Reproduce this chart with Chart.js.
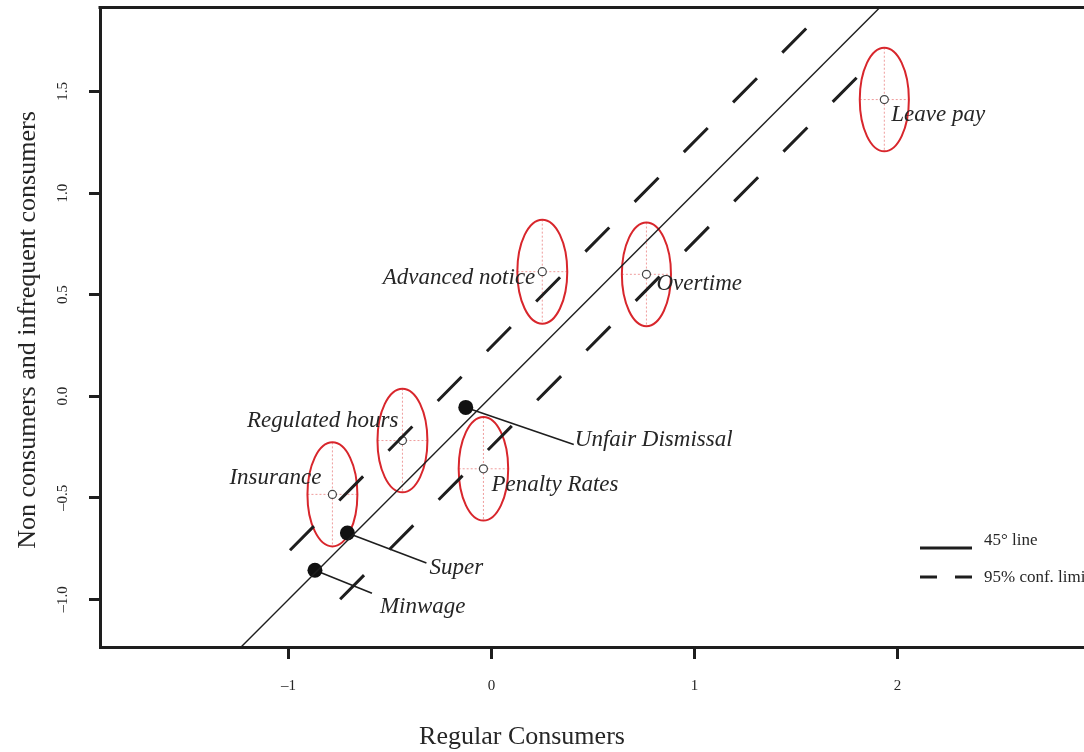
<!DOCTYPE html>
<html>
<head>
<meta charset="utf-8">
<script src="https://cdn.jsdelivr.net/npm/chart.js@4.4.1/dist/chart.umd.min.js"></script>
<style>
  html, body { margin: 0; padding: 0; background: #fff; overflow: hidden; }
  #wrap { width: 1084px; height: 752px; overflow: hidden; }
  canvas { display: block; }
</style>
</head>
<body>
<div id="wrap"><canvas id="c" width="1110" height="752"></canvas></div>
<script>
// ellipse items: point estimate + half-widths of the confidence region
const ellipseLabels = ['Leave pay', 'Advanced notice', 'Overtime', 'Regulated hours', 'Insurance', 'Penalty Rates'];
const ellipseX      = [1.935, 0.250, 0.763, -0.439, -0.784, -0.040];
const ellipseY      = [1.460, 0.613, 0.600, -0.218, -0.483, -0.357];
const ellipseHalfX  = [0.121, 0.123, 0.121, 0.123, 0.123, 0.122];
const ellipseHalfY  = [0.255, 0.256, 0.255, 0.255, 0.256, 0.255];

// filled (significant) items
const sigLabels = ['Unfair Dismissal', 'Super', 'Minwage'];
const sigX      = [-0.127, -0.710, -0.870];
const sigY      = [-0.055, -0.673, -0.856];

// reference lines
const diagX  = [-1.4, 2.1];
const diagY  = [-1.4, 2.1];
const upperX = [-0.993, 1.559];
const upperY = [-0.758, 1.819];
const lowerX = [-0.746, 1.805];
const lowerY = [-0.999, 1.574];

// axes
const xTicks = [-1, 0, 1, 2];
const yTicks = [-1.0, -0.5, 0.0, 0.5, 1.0, 1.5];
const xRange = [-1.929, 2.968];
const yRange = [-1.234, 1.913];

// label placement: pixel offset from the point, text alignment
const LABEL_POS = {
  'Leave pay':        [7, 15, 'left'],
  'Advanced notice':  [-7, 6, 'right'],
  'Overtime':         [10, 10, 'left'],
  'Regulated hours':  [-4, -20, 'right'],
  'Insurance':        [-11, -16, 'right'],
  'Penalty Rates':    [8, 16, 'left'],
  'Unfair Dismissal': [109, 33, 'left'],
  'Super':            [82, 35, 'left'],
  'Minwage':          [65, 37, 'left'],
};
// leader line ends for the filled points (pixel offsets)
const LEADER = { 'Unfair Dismissal': [108, 37], 'Super': [79, 30], 'Minwage': [57, 23] };

const INK = '#1e1e1e';
const TXT = '#262626';
const RED = '#d8262c';
const SERIF = '"Liberation Serif", "Times New Roman", serif';
const fmt = v => (v < 0 ? '\u2013' : '') + Math.abs(v).toFixed(1);

const pts = (xs, ys) => xs.map((x, i) => ({ x, y: ys[i] }));

const overlay = {
  id: 'overlay',
  beforeDatasetsDraw(chart) {
    const { ctx, scales: { x, y } } = chart;
    ctx.save();
    // ellipses + crosshairs
    ellipseLabels.forEach((lab, i) => {
      const cx = x.getPixelForValue(ellipseX[i]);
      const cy = y.getPixelForValue(ellipseY[i]);
      const rx = x.getPixelForValue(ellipseX[i] + ellipseHalfX[i]) - cx;
      const ry = cy - y.getPixelForValue(ellipseY[i] + ellipseHalfY[i]);
      ctx.strokeStyle = 'rgba(228,90,90,0.6)';
      ctx.lineWidth = 1;
      ctx.setLineDash([2, 2]);
      ctx.beginPath();
      ctx.moveTo(cx - rx, cy); ctx.lineTo(cx + rx, cy);
      ctx.moveTo(cx, cy - ry); ctx.lineTo(cx, cy + ry);
      ctx.stroke();
      ctx.setLineDash([]);
      ctx.strokeStyle = RED;
      ctx.lineWidth = 2;
      ctx.beginPath();
      ctx.ellipse(cx, cy, rx, ry, 0, 0, Math.PI * 2);
      ctx.stroke();
    });
    // leader lines
    ctx.strokeStyle = INK;
    ctx.lineWidth = 1.6;
    sigLabels.forEach((lab, i) => {
      const px = x.getPixelForValue(sigX[i]);
      const py = y.getPixelForValue(sigY[i]);
      const [dx, dy] = LEADER[lab];
      ctx.beginPath();
      ctx.moveTo(px, py);
      ctx.lineTo(px + dx, py + dy);
      ctx.stroke();
    });
    ctx.restore();
  },
  afterDraw(chart) {
    const { ctx, chartArea: a, scales: { x, y } } = chart;
    ctx.save();
    // top frame line
    ctx.strokeStyle = INK;
    ctx.lineWidth = 3;
    ctx.beginPath();
    ctx.moveTo(a.left - 1.5, a.top);
    ctx.lineTo(a.right, a.top);
    ctx.stroke();

    // point labels
    ctx.fillStyle = TXT;
    ctx.font = 'italic 23px ' + SERIF;
    ctx.textBaseline = 'middle';
    const put = (lab, xv, yv) => {
      const [dx, dy, al] = LABEL_POS[lab];
      ctx.textAlign = al;
      ctx.fillText(lab, x.getPixelForValue(xv) + dx, y.getPixelForValue(yv) + dy);
    };
    ellipseLabels.forEach((lab, i) => put(lab, ellipseX[i], ellipseY[i]));
    sigLabels.forEach((lab, i) => put(lab, sigX[i], sigY[i]));

    // y tick labels (rotated)
    ctx.font = '15px ' + SERIF;
    ctx.textAlign = 'center';
    yTicks.forEach(v => {
      ctx.save();
      ctx.translate(63, y.getPixelForValue(v));
      ctx.rotate(-Math.PI / 2);
      ctx.fillText(fmt(v), 0, 0);
      ctx.restore();
    });

    // axis titles
    ctx.font = '26px ' + SERIF;
    ctx.fillText('Regular Consumers', 522, 737);
    ctx.save();
    ctx.translate(28, 330);
    ctx.rotate(-Math.PI / 2);
    ctx.fillText('Non consumers and infrequent consumers', 0, 0);
    ctx.restore();

    // legend
    ctx.strokeStyle = INK;
    ctx.lineWidth = 3;
    ctx.beginPath();
    ctx.moveTo(920, 548); ctx.lineTo(972, 548);
    ctx.moveTo(920, 577); ctx.lineTo(937, 577);
    ctx.moveTo(955, 577); ctx.lineTo(972, 577);
    ctx.stroke();
    ctx.font = '17px ' + SERIF;
    ctx.textAlign = 'left';
    ctx.fillText('45\u00b0 line', 984, 541);
    ctx.fillText('95% conf. limits', 984, 578);
    ctx.restore();
  }
};

new Chart(document.getElementById('c'), {
  type: 'scatter',
  data: {
    datasets: [
      { type: 'line', data: pts(diagX, diagY), borderColor: INK, borderWidth: 1.4, pointRadius: 0, fill: false },
      { type: 'line', data: pts(upperX, upperY), borderColor: INK, borderWidth: 3, borderDash: [34, 36], pointRadius: 0, fill: false },
      { type: 'line', data: pts(lowerX, lowerY), borderColor: INK, borderWidth: 3, borderDash: [34, 36], pointRadius: 0, fill: false },
      { data: pts(ellipseX, ellipseY), pointRadius: 4, pointBackgroundColor: '#fff', pointBorderColor: '#444', pointBorderWidth: 1.2 },
      { data: pts(sigX, sigY), pointRadius: 7.5, pointBackgroundColor: '#111', pointBorderColor: '#111', pointBorderWidth: 0 },
    ]
  },
  options: {
    responsive: false,
    animation: false,
    events: [],
    layout: { padding: { top: 6, right: 16, left: 0, bottom: 0 } },
    plugins: { legend: { display: false }, tooltip: { enabled: false } },
    scales: {
      x: {
        type: 'linear', min: xRange[0], max: xRange[1],
        afterBuildTicks: s => { s.ticks = xTicks.map(v => ({ value: v })); },
        afterFit: s => { s.height = 105; },
        grid: { drawOnChartArea: false, drawTicks: true, tickLength: 12, tickWidth: 3, tickColor: INK },
        border: { display: true, width: 3, color: INK },
        ticks: { padding: 18, color: TXT, font: { family: SERIF, size: 15 },
                 callback: v => (v < 0 ? '\u2013' : '') + Math.abs(v) }
      },
      y: {
        type: 'linear', min: yRange[0], max: yRange[1],
        afterBuildTicks: s => { s.ticks = yTicks.map(v => ({ value: v })); },
        afterFit: s => { s.width = 100; },
        grid: { drawOnChartArea: false, drawTicks: true, tickLength: 11, tickWidth: 3, tickColor: INK },
        border: { display: true, width: 3, color: INK },
        ticks: { display: false }
      }
    }
  },
  plugins: [overlay]
});
</script>
</body>
</html>
